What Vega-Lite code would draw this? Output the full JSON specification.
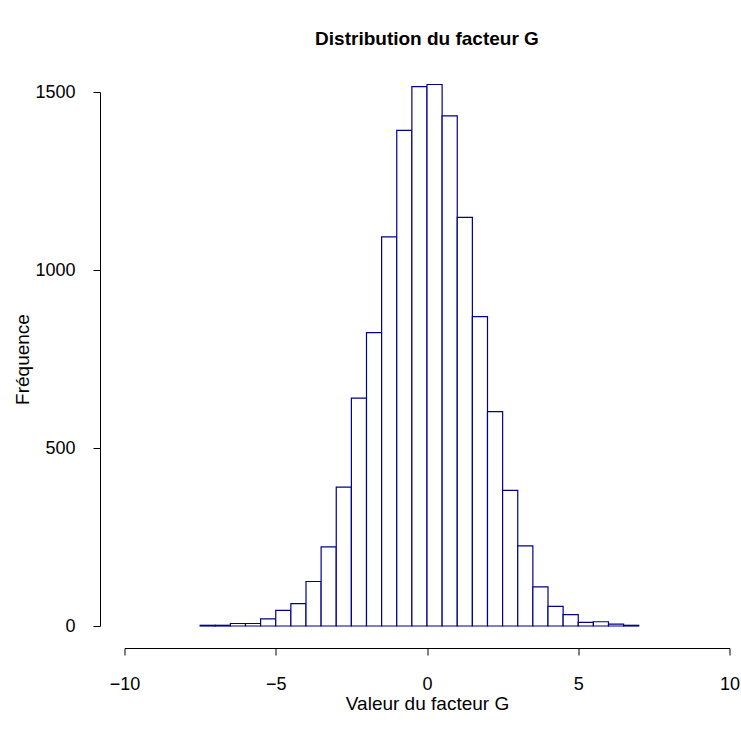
{
  "$schema": "https://vega.github.io/schema/vega-lite/v6.json",
  "autosize": "none",
  "width": 605,
  "height": 534,
  "padding": {"left": 124.5, "top": 92, "right": 11.5, "bottom": 112},
  "background": "white",
  "title": {
    "text": "Distribution du facteur G",
    "font": "Liberation Sans",
    "fontSize": 19,
    "fontWeight": "bold",
    "color": "black",
    "anchor": "middle",
    "baseline": "bottom",
    "offset": 15
  },
  "config": {"view": {"stroke": null}},
  "data": {
    "values": [
      {"start": -7.5, "end": -7.0, "count": 2},
      {"start": -7.0, "end": -6.5, "count": 2},
      {"start": -6.5, "end": -6.0, "count": 7},
      {"start": -6.0, "end": -5.5, "count": 7},
      {"start": -5.5, "end": -5.0, "count": 20},
      {"start": -5.0, "end": -4.5, "count": 44},
      {"start": -4.5, "end": -4.0, "count": 63},
      {"start": -4.0, "end": -3.5, "count": 125},
      {"start": -3.5, "end": -3.0, "count": 222},
      {"start": -3.0, "end": -2.5, "count": 390},
      {"start": -2.5, "end": -2.0, "count": 640},
      {"start": -2.0, "end": -1.5, "count": 824},
      {"start": -1.5, "end": -1.0, "count": 1093},
      {"start": -1.0, "end": -0.5, "count": 1392},
      {"start": -0.5, "end": 0.0, "count": 1515},
      {"start": 0.0, "end": 0.5, "count": 1521},
      {"start": 0.5, "end": 1.0, "count": 1433},
      {"start": 1.0, "end": 1.5, "count": 1148},
      {"start": 1.5, "end": 2.0, "count": 869},
      {"start": 2.0, "end": 2.5, "count": 602},
      {"start": 2.5, "end": 3.0, "count": 381},
      {"start": 3.0, "end": 3.5, "count": 225},
      {"start": 3.5, "end": 4.0, "count": 110},
      {"start": 4.0, "end": 4.5, "count": 55},
      {"start": 4.5, "end": 5.0, "count": 32},
      {"start": 5.0, "end": 5.5, "count": 10},
      {"start": 5.5, "end": 6.0, "count": 12},
      {"start": 6.0, "end": 6.5, "count": 5},
      {"start": 6.5, "end": 7.0, "count": 2}
    ]
  },
  "mark": {"type": "rect", "fill": "white", "stroke": "#00008B", "strokeWidth": 1.2, "clip": false},
  "encoding": {
    "x": {
      "field": "start",
      "type": "quantitative",
      "scale": {"domain": [-10, 10], "nice": false, "zero": false},
      "axis": {
        "values": [-10, -5, 0, 5, 10],
        "format": "d",
        "title": "Valeur du facteur G",
        "grid": false,
        "offset": 22,
        "tickSize": 7,
        "domainColor": "black",
        "tickColor": "black",
        "labelColor": "black",
        "labelFont": "Liberation Sans",
        "labelFontSize": 18,
        "labelPadding": 20,
        "labelFlush": false,
        "titleFont": "Liberation Sans",
        "titleFontSize": 19,
        "titleFontWeight": "normal",
        "titleColor": "black",
        "titleBaseline": "middle",
        "titleY": 55
      }
    },
    "x2": {"field": "end"},
    "y": {
      "field": "count",
      "type": "quantitative",
      "scale": {"domain": [0, 1500], "nice": false, "zero": true},
      "axis": {
        "values": [0, 500, 1000, 1500],
        "format": "d",
        "title": "Fréquence",
        "grid": false,
        "offset": 24.5,
        "tickSize": 7,
        "domainColor": "black",
        "tickColor": "black",
        "labelColor": "black",
        "labelFont": "Liberation Sans",
        "labelFontSize": 18,
        "labelPadding": 18,
        "labelFlush": false,
        "titleFont": "Liberation Sans",
        "titleFontSize": 19,
        "titleFontWeight": "normal",
        "titleColor": "black",
        "titleBaseline": "middle",
        "titleX": -78
      }
    },
    "y2": {"datum": 0}
  }
}
